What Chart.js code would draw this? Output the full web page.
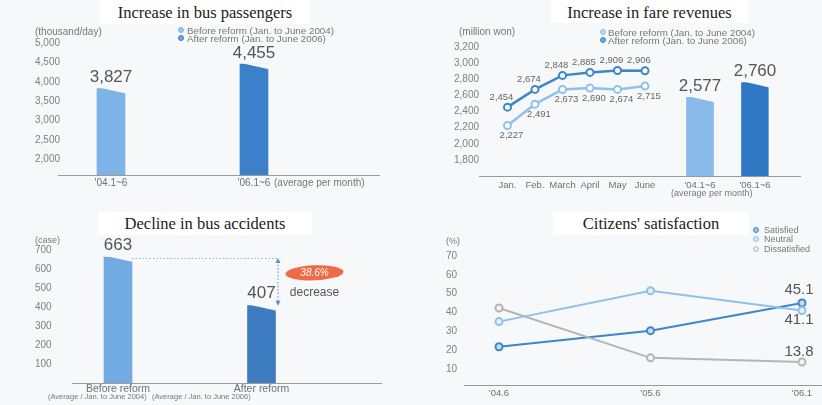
<!DOCTYPE html>
<html>
<head>
<meta charset="utf-8">
<script src="https://cdn.jsdelivr.net/npm/chart.js@4.4.0/dist/chart.umd.min.js"></script>
<style>
  html, body { margin: 0; padding: 0; }
  body { width: 822px; height: 405px; position: relative; overflow: hidden; background: #f7f8f9; font-family: "Liberation Sans", Arial, sans-serif; }
  canvas { position: absolute; }
  .title { position: absolute; background: #fff; font-family: "Liberation Serif", serif; font-size: 16.5px; color: #222; text-align: center; }
  .txt { position: absolute; white-space: nowrap; color: #777; }
  .leg { position: absolute; white-space: nowrap; color: #777; font-size: 9.8px; line-height: 9px; }
  .dot { position: absolute; width: 6px; height: 6px; border-radius: 50%; box-sizing: border-box; }
</style>
</head>
<body>
<canvas id="c1" width="411" height="200" style="left:0;top:0"></canvas>
<canvas id="c2" width="411" height="200" style="left:411px;top:0"></canvas>
<canvas id="c3" width="411" height="205" style="left:0;top:200px"></canvas>
<canvas id="c4" width="411" height="205" style="left:411px;top:200px"></canvas>

<div class="title" style="left:100px;top:0;width:210px;height:24px;line-height:26px">Increase in bus passengers</div>
<div class="title" style="left:551px;top:0;width:197px;height:23px;line-height:26px">Increase in fare revenues</div>
<div class="title" style="left:98px;top:212px;width:214px;height:23px;line-height:24px">Decline in bus accidents</div>
<div class="title" style="left:553px;top:212px;width:196px;height:23px;line-height:24px">Citizens' satisfaction</div>

<div class="txt" style="left:35px;top:26px;font-size:10px">(thousand/day)</div>
<div class="txt" style="left:459px;top:26px;font-size:10px">(million won)</div>
<div class="txt" style="left:35px;top:235px;font-size:9px">(case)</div>
<div class="txt" style="left:446px;top:236px;font-size:9px">(%)</div>

<div class="dot" style="left:178px;top:27px;background:#9cc8ee;border:1.5px solid #7db3e6"></div>
<div class="leg" style="left:187px;top:26px">Before reform (Jan. to June 2004)</div>
<div class="dot" style="left:178px;top:35px;background:#6fa6dc;border:1.5px solid #3b80c8"></div>
<div class="leg" style="left:187px;top:34px">After reform (Jan. to June 2006)</div>

<div class="dot" style="left:600px;top:29px;background:#b3d6f3;border:1.5px solid #8ec2ec"></div>
<div class="leg" style="left:608px;top:28px">Before reform (Jan. to June 2004)</div>
<div class="dot" style="left:600px;top:37px;background:#6fa6dc;border:1.5px solid #3d86ca"></div>
<div class="leg" style="left:608px;top:36px">After reform (Jan. to June 2006)</div>

<div class="dot" style="left:753px;top:227px;background:#9cc4e8;border:1.5px solid #3d86ca"></div>
<div class="txt" style="left:764px;top:225px;font-size:9px">Satisfied</div>
<div class="dot" style="left:753px;top:236px;background:#d4e8f8;border:1.5px solid #8ec2ec"></div>
<div class="txt" style="left:764px;top:234px;font-size:9px">Neutral</div>
<div class="dot" style="left:753px;top:246px;background:#eee;border:1.5px solid #b5b5b5"></div>
<div class="txt" style="left:764px;top:244px;font-size:9px">Dissatisfied</div>

<div class="txt" style="left:274px;top:177px;font-size:10px">(average per month)</div>
<div class="txt" style="left:671px;top:188px;font-size:9px">(average per month)</div>
<div class="txt" id="n1" style="left:48px;top:392px;font-size:7.5px"></div>
<div class="txt" id="n2" style="left:152px;top:392px;font-size:7.5px"></div>

<script>
// bus passengers (thousand/day)
const passengerCats = ["'04.1~6", "'06.1~6"];
const passengerVals = [3827, 4455];
const passengerTicks = [2000, 2500, 3000, 3500, 4000, 4500, 5000];

// fare revenues (million won)
const fareCats = ["Jan.", "Feb.", "March", "April", "May", "June", "", "'04.1~6", "", "'06.1~6"];
const fareBefore = [2227, 2491, 2673, 2690, 2674, 2715];
const fareAfter = [2454, 2674, 2848, 2885, 2909, 2906];
const fareAvgCats = ["'04.1~6", "'06.1~6"];
const fareAvg = [2577, 2760];
const fareTicks = [1800, 2000, 2200, 2400, 2600, 2800, 3000, 3200];

// bus accidents (cases)
const accidentCats = ["Before reform", "After reform"];
const accidentNotes = ["(Average / Jan. to June 2004)", "(Average / Jan. to June 2006)"];
const accidentVals = [663, 407];
const accidentTicks = [100, 200, 300, 400, 500, 600, 700];

// citizens' satisfaction (%)
const surveyCats = ["'04.6", "'05.6", "'06.1"];
const satisfied = [21.9, 30.4, 45.1];
const neutral = [35.2, 51.6, 41.1];
const dissatisfied = [42.4, 16.0, 13.8];
const surveyTicks = [10, 20, 30, 40, 50, 60, 70];

document.getElementById("n1").textContent = accidentNotes[0];
document.getElementById("n2").textContent = accidentNotes[1];

const BG = "#f7f8f9";
const tickFont = { family: "Liberation Sans", size: 10 };
const fmt = (v) => v.toLocaleString("en-US");

// draws numbers next to points / on top of bars
const valueLabels = {
  id: "valueLabels",
  afterDatasetsDraw(chart) {
    const ctx = chart.ctx;
    chart.data.datasets.forEach((ds, i) => {
      const lab = ds.valueLabel;
      if (!lab) return;
      chart.getDatasetMeta(i).data.forEach((el, j) => {
        const v = ds.data[j];
        if (v == null) return;
        if (lab.only && !lab.only.includes(j)) return;
        ctx.save();
        ctx.font = lab.font;
        ctx.fillStyle = lab.color || "#555";
        ctx.textAlign = "center";
        ctx.textBaseline = "middle";
        ctx.fillText(fmt(v), el.x + (lab.dx || 0), el.y + (lab.dy || 0));
        ctx.restore();
      });
    });
  },
};

// y tick labels, left aligned at a fixed x (they overhang the plot in the original)
const yLabels = {
  id: "yLabels",
  afterDraw(chart, args, opts) {
    const { ctx } = chart;
    const s = chart.scales.y;
    ctx.save();
    ctx.font = "10px Liberation Sans";
    ctx.fillStyle = "#808080";
    ctx.textAlign = "left";
    ctx.textBaseline = "middle";
    s.ticks.forEach((t) => ctx.fillText(fmt(t.value), opts.x, s.getPixelForValue(t.value)));
    ctx.restore();
  },
};

// thin axis line, longer than the plot area
const baseline = {
  id: "baseline",
  beforeDatasetsDraw(chart, args, opts) {
    const { ctx, chartArea } = chart;
    const y = chartArea.bottom + (opts.dy || 0) + 0.5;
    ctx.save();
    ctx.strokeStyle = "#9a9a9a";
    ctx.lineWidth = 1;
    ctx.beginPath();
    ctx.moveTo(opts.from, y);
    ctx.lineTo(opts.to, y);
    ctx.stroke();
    ctx.restore();
  },
};

// the bars in the original have a slightly sloping top
const slantTop = {
  id: "slantTop",
  afterDatasetsDraw(chart) {
    const ctx = chart.ctx;
    chart.data.datasets.forEach((ds, i) => {
      const meta = chart.getDatasetMeta(i);
      if (meta.type !== "bar") return;
      meta.data.forEach((el, j) => {
        if (ds.data[j] == null) return;
        const l = el.x - el.width / 2, r = el.x + el.width / 2;
        ctx.save();
        ctx.fillStyle = BG;
        ctx.beginPath();
        ctx.moveTo(l + 2, el.y - 1);
        ctx.lineTo(r + 1, el.y - 1);
        ctx.lineTo(r + 1, el.y + 5);
        ctx.closePath();
        ctx.fill();
        ctx.restore();
      });
    });
  },
};

function yAxis(min, max, ticks, width) {
  return {
    min, max,
    afterBuildTicks: (s) => { s.ticks = ticks.map((v) => ({ value: v })); },
    afterFit: (s) => { s.width = width; },
    grid: { display: false, drawTicks: false },
    border: { display: false },
    ticks: { display: false },
  };
}

function xAxis(height, offset, font, padding) {
  return {
    offset,
    afterFit: (s) => { s.height = height; },
    grid: { display: false, drawTicks: false, tickLength: 0 },
    border: { display: false },
    ticks: { autoSkip: false, maxRotation: 0, color: "#707070", font: font || tickFont, padding },
  };
}

const common = {
  responsive: false,
  animation: false,
  events: [],
};
const noLegend = { legend: { display: false }, tooltip: { enabled: false } };

// 1. bus passengers
new Chart(document.getElementById("c1"), {
  type: "bar",
  data: {
    labels: passengerCats,
    datasets: [{
      data: passengerVals,
      backgroundColor: ["#7db3e6", "#3b80c8"],
      barThickness: 28,
      valueLabel: { font: "17px Liberation Sans", color: "#555", dy: -11 },
    }],
  },
  options: {
    ...common,
    layout: { padding: { left: 35, right: 85.5, top: 43, bottom: 0 } },
    scales: { x: xAxis(25, true, null, 2), y: yAxis(1600, 5000, passengerTicks, 4.5) },
    plugins: { ...noLegend, baseline: { from: 58, to: 380 }, yLabels: { x: 35 } },
  },
  plugins: [baseline, slantTop, valueLabels, yLabels],
});

// 2. fare revenues
const pad = (arr) => fareCats.map((c, i) => (i < arr.length ? arr[i] : null));
const avgSeries = fareCats.map((c, i) => {
  const k = fareAvgCats.indexOf(c);
  return k >= 0 && i > 5 ? fareAvg[k] : null;
});

new Chart(document.getElementById("c2"), {
  type: "bar",
  data: {
    labels: fareCats,
    datasets: [
      {
        type: "line",
        data: pad(fareAfter),
        borderColor: "#3d86ca",
        borderWidth: 2.5,
        pointRadius: 3.5,
        pointBorderWidth: 2,
        pointBackgroundColor: "#fff",
        pointBorderColor: "#3d86ca",
        valueLabel: { font: "9.5px Liberation Sans", color: "#666", dx: -6, dy: -10 },
      },
      {
        type: "line",
        data: pad(fareBefore),
        borderColor: "#8ec2ec",
        borderWidth: 2.5,
        pointRadius: 3.5,
        pointBorderWidth: 2,
        pointBackgroundColor: "#fff",
        pointBorderColor: "#8ec2ec",
        valueLabel: { font: "9.5px Liberation Sans", color: "#666", dx: 4, dy: 10 },
      },
      {
        data: avgSeries,
        backgroundColor: fareCats.map((c) => (c === fareAvgCats[0] ? "#88bbea" : "#2f78c3")),
        barThickness: 27,
        valueLabel: { font: "17px Liberation Sans", color: "#555", dy: -11 },
      },
    ],
  },
  options: {
    ...common,
    layout: { padding: { left: 43, right: 53.25, top: 47, bottom: 0 } },
    scales: {
      x: xAxis(24, true, { family: "Liberation Sans", size: 9.5 }, 4),
      y: yAxis(1600, 3200, fareTicks, 39.75),
    },
    plugins: { ...noLegend, baseline: { from: 68, to: 390 }, yLabels: { x: 43 } },
  },
  plugins: [baseline, slantTop, valueLabels, yLabels],
});

// 3. bus accidents, with the "decrease" call-out
const decreaseNote = {
  id: "decreaseNote",
  afterDatasetsDraw(chart) {
    const ctx = chart.ctx;
    const [a, b] = chart.getDatasetMeta(0).data;
    const ax = b.x + b.width / 2 + 2;
    const top = a.y + 1, bot = b.y;
    ctx.save();
    ctx.strokeStyle = "#8fb3da";
    ctx.lineWidth = 1;
    ctx.setLineDash([1.5, 2]);
    ctx.beginPath();
    ctx.moveTo(a.x + a.width / 2, top + 0.5);
    ctx.lineTo(ax, top + 0.5);
    ctx.stroke();
    ctx.strokeStyle = "#5b8fc9";
    ctx.beginPath();
    ctx.moveTo(ax + 0.5, top + 3);
    ctx.lineTo(ax + 0.5, bot - 3);
    ctx.stroke();
    ctx.setLineDash([]);
    ctx.fillStyle = "#5b8fc9";
    ctx.beginPath();
    ctx.moveTo(ax + 0.5, top);
    ctx.lineTo(ax - 2, top + 5);
    ctx.lineTo(ax + 3, top + 5);
    ctx.fill();
    ctx.beginPath();
    ctx.moveTo(ax + 0.5, bot);
    ctx.lineTo(ax - 2, bot - 5);
    ctx.lineTo(ax + 3, bot - 5);
    ctx.fill();

    const mid = (top + bot) / 2;
    const cx = ax + 37;
    ctx.fillStyle = "#ee6b45";
    ctx.beginPath();
    ctx.ellipse(cx, mid - 9, 29, 7.5, -0.04, 0, Math.PI * 2);
    ctx.fill();
    const pct = ((accidentVals[0] - accidentVals[1]) / accidentVals[0] * 100).toFixed(1) + "%";
    ctx.fillStyle = "#fff";
    ctx.font = "italic 10px Liberation Sans";
    ctx.textAlign = "center";
    ctx.textBaseline = "middle";
    ctx.fillText(pct, cx, mid - 9);
    ctx.fillStyle = "#555";
    ctx.font = "12px Liberation Sans";
    ctx.fillText("decrease", cx, mid + 11);
    ctx.restore();
  },
};

new Chart(document.getElementById("c3"), {
  type: "bar",
  data: {
    labels: accidentCats,
    datasets: [{
      data: accidentVals,
      backgroundColor: ["#72aae2", "#3e7cc2"],
      barThickness: 28,
      valueLabel: { font: "17px Liberation Sans", color: "#555", dy: -12 },
    }],
  },
  options: {
    ...common,
    layout: { padding: { left: 35, right: 77.75, top: 50, bottom: 0 } },
    scales: { x: xAxis(22, true, { family: "Liberation Sans", size: 10.5 }, 0), y: yAxis(0, 700, accidentTicks, 11.25) },
    plugins: { ...noLegend, baseline: { from: 72, to: 382 }, yLabels: { x: 35 } },
  },
  plugins: [baseline, slantTop, decreaseNote, valueLabels, yLabels],
});

// 4. citizens' satisfaction
const last = [surveyCats.length - 1];
function surveyLine(data, color, fill, dy) {
  return {
    data,
    borderColor: color,
    borderWidth: 2,
    pointRadius: 3.5,
    pointBorderWidth: 2,
    pointBackgroundColor: fill,
    pointBorderColor: color,
    valueLabel: { font: "15px Liberation Sans", color: "#555", dx: -3, dy, only: last },
  };
}

new Chart(document.getElementById("c4"), {
  type: "line",
  data: {
    labels: surveyCats,
    datasets: [
      surveyLine(dissatisfied, "#b5b5b5", "#f4f4f4", -10),
      surveyLine(neutral, "#8ec2ec", "#e6f1fb", 9),
      surveyLine(satisfied, "#3d86ca", "#c9def2", -13),
    ],
  },
  options: {
    ...common,
    layout: { padding: { left: 35, right: 20, top: 56, bottom: 0 } },
    scales: {
      x: xAxis(17, false, { family: "Liberation Sans", size: 9.5 }, 0),
      y: yAxis(0, 70, surveyTicks, 53),
    },
    plugins: { ...noLegend, baseline: { from: 53, to: 411, dy: -3 }, yLabels: { x: 35 } },
  },
  plugins: [baseline, valueLabels, yLabels],
});
</script>
</body>
</html>
